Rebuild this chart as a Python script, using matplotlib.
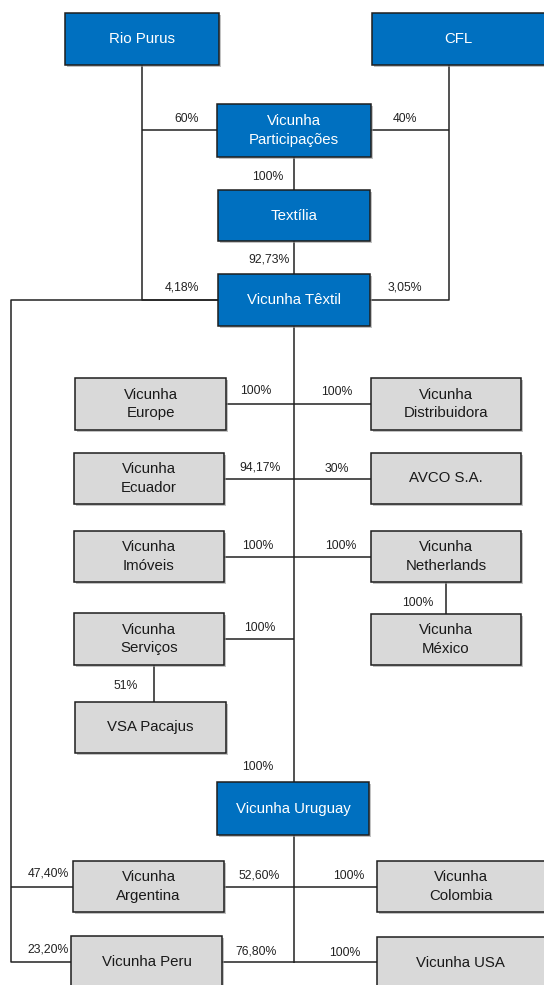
"""
Vicunha group - corporate structure chart
"""

import matplotlib.pyplot as plt
from matplotlib.patches import Rectangle

plt.rcParams["font.family"] = ["Liberation Sans", "DejaVu Sans"]

BLUE = "#0070C0"
GREY = "#D9D9D9"
EDGE = "#1E1E1E"
LINE = "#222222"

# entities
names = [
    "Rio Purus", "CFL", "Vicunha\nParticipações", "Textília", "Vicunha Têxtil",
    "Vicunha\nEurope", "Vicunha\nDistribuidora", "Vicunha\nEcuador", "AVCO S.A.",
    "Vicunha\nImóveis", "Vicunha\nNetherlands", "Vicunha\nMéxico", "Vicunha\nServiços",
    "VSA Pacajus", "Vicunha Uruguay", "Vicunha\nArgentina", "Vicunha\nColombia",
    "Vicunha Peru", "Vicunha USA",
]
holding = [True, True, True, True, True,
           False, False, False, False, False, False, False, False,
           False, True, False, False, False, False]

# ownership stakes as printed on the links
stakes = ["60%", "40%", "100%", "92,73%", "4,18%", "3,05%",
          "100%", "100%", "94,17%", "30%", "100%", "100%", "100%", "100%",
          "51%", "100%", "47,40%", "52,60%", "100%", "23,20%", "76,80%", "100%"]

# ---- layout (pixel coords, y down) ----
boxes = [
    (65, 13, 219, 65), (372, 13, 548, 65), (217, 104, 371, 157),
    (218, 190, 370, 241), (218, 274, 370, 326),
    (75, 378, 226, 430), (371, 378, 521, 430),
    (74, 453, 224, 504), (371, 453, 521, 504),
    (74, 531, 224, 582), (371, 531, 521, 582),
    (371, 614, 521, 665), (74, 613, 224, 665),
    (75, 702, 226, 753), (217, 782, 369, 835),
    (73, 861, 224, 912), (377, 861, 548, 912),
    (71, 936, 222, 995), (377, 937, 548, 995),
]

stake_pos = [
    (187, 119), (405, 119), (268, 177), (269, 260), (182, 287), (405, 287),
    (256, 391), (337, 392), (260, 467), (337, 469), (258, 546), (341, 546),
    (418, 603), (260, 628), (126, 686), (258, 767),
    (48, 874), (259, 875), (349, 876), (48, 950), (256, 951), (345, 953),
]

links = [
    [(142, 65), (142, 300), (218, 300)],
    [(142, 130), (217, 130)],
    [(449, 65), (449, 300), (370, 300)],
    [(449, 130), (371, 130)],
    [(294, 157), (294, 190)],
    [(294, 241), (294, 274)],
    [(294, 326), (294, 963)],
    [(218, 300), (11, 300), (11, 962), (71, 962)],
    [(226, 404), (371, 404)],
    [(224, 479), (371, 479)],
    [(224, 557), (371, 557)],
    [(446, 582), (446, 614)],
    [(224, 639), (294, 639)],
    [(154, 665), (154, 702)],
    [(11, 887), (73, 887)],
    [(224, 887), (377, 887)],
    [(222, 962), (377, 962)],
]

fig = plt.figure(figsize=(5.44, 9.85), dpi=100)
ax = fig.add_axes([0, 0, 1, 1])
ax.set_xlim(0, 544)
ax.set_ylim(985, 0)
ax.axis("off")

for pts in links:
    xs, ys = zip(*pts)
    ax.plot(xs, ys, color=LINE, lw=1.1, solid_capstyle="butt", zorder=1)

for name, hold, (x0, y0, x1, y1) in zip(names, holding, boxes):
    # soft shadow
    ax.add_patch(Rectangle((x0 + 2, y0 + 2), x1 - x0, y1 - y0,
                           facecolor="#9A9A9A", edgecolor="none", alpha=0.6, zorder=2))
    ax.add_patch(Rectangle((x0, y0), x1 - x0, y1 - y0,
                           facecolor=BLUE if hold else GREY, edgecolor=EDGE,
                           lw=1.1, zorder=3))
    cx = (x0 + x1) / 2
    cy = (y0 + y1) / 2
    if x1 > 544:
        cx = (x0 + 540) / 2 + 2
    if y1 > 985:
        cy = y0 + 26
    ax.text(cx, cy, name, ha="center", va="center", fontsize=10.8,
            color="white" if hold else "#1A1A1A", linespacing=1.4, zorder=4)

for s, (x, y) in zip(stakes, stake_pos):
    ax.text(x, y, s, ha="center", va="center", fontsize=8.8, color="#222222", zorder=4)

fig.savefig("out.png", dpi=100)
plt.close(fig)
